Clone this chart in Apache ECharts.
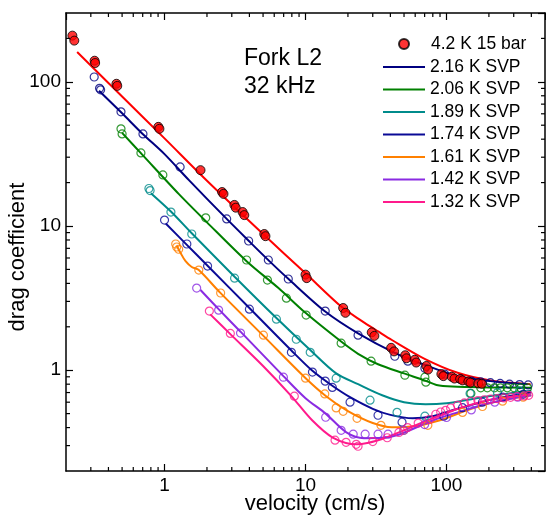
<!DOCTYPE html>
<html>
<head>
<meta charset="utf-8">
<script src="https://cdn.jsdelivr.net/npm/echarts@6/dist/echarts.min.js"></script>
<style>
html, body { margin: 0; padding: 0; background: #fff; }
#chart { width: 546px; height: 519px; }
</style>
</head>
<body>
<div id="chart"></div>
<script>
// Tuning fork L2 at 32 kHz: drag coefficient against velocity (cm/s).
// Each temperature has measured points [velocity, drag] and a fitted curve.

const dots42K = [[0.222,209],[0.229,193],[0.319,140],[0.322,135],[0.456,96.9],[0.462,93.7],
  [0.904,48.7],[0.92,47.2],[1.80,24.4],[2.56,17.2],[2.62,16.7],[3.13,14.0],[3.2,13.4],
  [3.58,12.5],[3.68,11.9],[5.1,8.8],[5.2,8.5],[10.0,4.6],[10.2,4.35],[18.5,2.7],[19.2,2.5],
  [29.5,1.83],[30.8,1.73],[40.5,1.43],[42.5,1.35],[51,1.27],[52,1.21],[59.5,1.18],[61,1.13],
  [72,1.07],[74,1.01],[92,0.94],[95,0.91],[109,0.90],[114,0.875],[125,0.87],[130,0.85],
  [143,0.835],[148,0.82],[168,0.81],[178,0.805]];
const fit42K = [[0.24,161],[0.5,79],[1,40.5],[2,20.6],[5,8.8],[10,4.7],[18,2.75],[25,2.2],
  [33,1.85],[41,1.62],[70,1.2],[120,0.96],[205,0.85],[395,0.80]];

const dots216 = [[0.317,108],[0.346,90.1],[0.352,88],[0.491,61.9],[0.703,43.5],[1.29,25.7],
  [2.76,11.2],[3.95,7.87],[5.45,5.81],[7.55,4.29],[13.8,2.57],[23.6,1.75],[43,1.25],
  [53.2,1.155],[70.3,1.03],[97.3,0.938],[126,0.866],[150,0.84],[175,0.83],[205,0.82],
  [240,0.81],[280,0.80],[330,0.795],[380,0.79]];
const fit216 = [[0.343,86.6],[0.5,60.5],[0.7,43.5],[1.0,31.5],[1.49,20.8],[2.76,11.2],
  [3.95,7.9],[5.45,5.8],[7.55,4.3],[13.8,2.55],[23.6,1.8],[42.9,1.32],[69.9,1.09],
  [120,0.91],[205,0.84],[376,0.80]];

const dots206 = [[0.491,47.2],[0.50,43.5],[0.68,32.1],[0.973,22.6],[1.96,11.4],[3.82,5.81],
  [5.37,4.22],[7.32,3.16],[10.1,2.41],[17.9,1.54],[29.2,1.155],[50.7,0.923],[70.3,0.894],
  [71.4,0.826],[149,0.69],[175,0.755],[195,0.755],[219,0.755],[241,0.755],[270,0.755],
  [302,0.755],[336,0.755],[376,0.755]];
const fit206 = [[0.5,44.2],[0.7,31],[1.26,16.7],[2,10.6],[3.82,5.7],[6.43,3.71],[10,2.5],
  [17.9,1.58],[23.6,1.3],[32.7,1.10],[50,0.95],[70,0.85],[85,0.79],[110,0.77],[200,0.76],
  [400,0.755]];

const dots189 = [[0.775,18.2],[0.79,17.6],[1.11,12.5],[1.56,8.8],[3.14,4.35],[6.22,2.26],
  [8.6,1.64],[10.8,1.33],[16.5,0.88],[28.7,0.62],[44.6,0.51],[70.3,0.48],[147,0.69],
  [230,0.70],[330,0.72]];
const fit189 = [[0.80,16.9],[1.11,12.6],[1.56,8.9],[3.14,4.45],[6.22,2.3],[10.8,1.38],
  [16.5,0.95],[23.6,0.80],[35,0.67],[50,0.60],[71,0.58],[100,0.59],[150,0.63],[250,0.68],
  [400,0.72]];

const dots174 = [[1.0,11.0],[1.44,7.5],[2.02,5.27],[4.0,2.65],[7.94,1.33],[11.2,0.97],
  [13.8,0.84],[15.5,0.76],[20.7,0.60],[32.7,0.487],[48.4,0.436],[95.7,0.48],[130,0.55],
  [180,0.60],[250,0.65],[350,0.68]];
const fit174 = [[1.02,10.4],[1.44,7.4],[2.02,5.3],[4.0,2.7],[7.94,1.37],[11.2,0.99],
  [15.5,0.78],[20.7,0.65],[30,0.54],[40,0.49],[57.7,0.464],[80,0.48],[120,0.54],
  [200,0.62],[300,0.67],[400,0.70]];

const dots161 = [[1.20,7.5],[1.22,7.15],[1.26,6.9],[1.75,4.95],[2.50,3.43],[5.03,1.75],
  [10.0,0.88],[13.7,0.685],[16.5,0.548],[18.5,0.519],[23.2,0.464],[34.3,0.415],[49.9,0.383],
  [73.8,0.415],[130,0.51],[180,0.56],[250,0.61],[350,0.65]];
const fit161 = [[1.22,7.3],[1.30,6.5],[1.41,5.7],[1.56,5.2],[1.75,4.95],[2.48,3.45],
  [5.03,1.73],[9.9,0.89],[14,0.66],[20,0.52],[30,0.43],[41,0.402],[60,0.41],[90,0.45],
  [150,0.54],[250,0.62],[400,0.67]];

const dots142 = [[1.69,3.71],[2.42,2.61],[3.46,1.81],[6.97,0.894],[13.9,0.472],[17.9,0.383],
  [21.8,0.36],[26.5,0.36],[32.7,0.36],[38.5,0.36],[49.9,0.383],[70,0.42],[100,0.47],
  [150,0.53],[220,0.60],[320,0.65]];
const fit142 = [[1.8,3.6],[2.42,2.65],[3.46,1.85],[6.97,0.91],[10,0.64],[13.9,0.50],
  [19.5,0.371],[26,0.338],[35,0.34],[45.7,0.357],[80.6,0.45],[120,0.51],[200,0.59],
  [300,0.64],[400,0.67]];

const dots132 = [[2.08,2.57],[2.93,1.80],[8.33,0.661],[16.2,0.327],[19.4,0.316],[22.9,0.306],
  [23.6,0.297],[30,0.32],[38,0.34],[46,0.37],[53,0.40],[63,0.43],[75.5,0.455],[84,0.495],
  [91,0.513],[98.6,0.527],[107,0.547],[120,0.571],[134,0.593],[149,0.609],[167,0.616],
  [185,0.622],[205,0.63],[229,0.636],[256,0.642],[285,0.649],[317,0.657],[355,0.663],
  [383,0.67]];
const fit132 = [[2.11,2.44],[2.93,1.78],[5,1.07],[7.88,0.667],[11.1,0.451],[15.6,0.341],
  [23.1,0.306],[34.5,0.332],[60.6,0.415],[107,0.519],[189,0.613],[395,0.68]];

// minor tick positions of the logarithmic axes
const xMinorTicks = [0.3,0.4,0.5,0.6,0.7,0.8,0.9,2,3,4,5,6,7,8,9,20,30,40,50,60,70,80,90,200,300,400];
const yMinorTicks = [0.3,0.4,0.5,0.6,0.7,0.8,0.9,2,3,4,5,6,7,8,9,20,30,40,50,60,70,80,90,200];

const FONT = 'Liberation Sans, Arial, sans-serif';

const svpSets = [
  { name: '2.16 K SVP', color: '#000080', dots: dots216, fit: fit216 },
  { name: '2.06 K SVP', color: '#008000', dots: dots206, fit: fit206 },
  { name: '1.89 K SVP', color: '#008b8b', dots: dots189, fit: fit189 },
  { name: '1.74 K SVP', color: '#0a0a96', dots: dots174, fit: fit174 },
  { name: '1.61 K SVP', color: '#ff8000', dots: dots161, fit: fit161 },
  { name: '1.42 K SVP', color: '#8a2be2', dots: dots142, fit: fit142 },
  { name: '1.32 K SVP', color: '#ff1a8c', dots: dots132, fit: fit132 }
];

const tickLine = { color: '#000', width: 1.2 };

function logAxis(pos, min, max, showLabels) {
  return {
    type: 'log', logBase: 10, min: min, max: max, position: pos,
    axisLine: { show: true, onZero: false, lineStyle: { color: '#000', width: 1.5 } },
    axisTick: { show: true, inside: true, length: 7, lineStyle: tickLine },
    minorTick: { show: false },
    splitLine: { show: false },
    axisLabel: {
      show: showLabels, fontSize: 19, color: '#000', fontFamily: FONT, margin: 5,
      showMinLabel: false, showMaxLabel: false
    }
  };
}

function minorTicksX(params, api) {
  const cs = params.coordSys;
  const x = api.coord([api.value(0), 1])[0];
  const yb = cs.y + cs.height, yt = cs.y;
  return { type: 'group', children: [
    { type: 'line', shape: { x1: x, y1: yb, x2: x, y2: yb - 4 }, style: { stroke: '#000', lineWidth: 1.2 } },
    { type: 'line', shape: { x1: x, y1: yt, x2: x, y2: yt + 4 }, style: { stroke: '#000', lineWidth: 1.2 } }
  ]};
}
function minorTicksY(params, api) {
  const cs = params.coordSys;
  const y = api.coord([1, api.value(1)])[1];
  const xl = cs.x, xr = cs.x + cs.width;
  return { type: 'group', children: [
    { type: 'line', shape: { x1: xl, y1: y, x2: xl + 4, y2: y }, style: { stroke: '#000', lineWidth: 1.2 } },
    { type: 'line', shape: { x1: xr, y1: y, x2: xr - 4, y2: y }, style: { stroke: '#000', lineWidth: 1.2 } }
  ]};
}

const series = [];
// fitted curves
series.push({
  name: '4.2 K fit', type: 'line', data: fit42K, showSymbol: false, smooth: 0.3,
  lineStyle: { color: '#ff0000', width: 2 }, itemStyle: { color: '#ff0000' }, z: 2
});
svpSets.forEach(s => {
  series.push({
    name: s.name, type: 'line', data: s.fit, showSymbol: false, smooth: 0.3,
    lineStyle: { color: s.color, width: 2 }, itemStyle: { color: s.color }, z: 2
  });
});
// measured points, open circles
svpSets.forEach(s => {
  series.push({
    name: s.name + ' data', type: 'scatter', data: s.dots, symbol: 'circle', symbolSize: 8,
    itemStyle: { color: 'rgba(0,0,0,0)', borderColor: s.color, borderWidth: 1.2 }, z: 3
  });
});
// 4.2 K measured points, filled
series.push({
  name: '4.2 K 15 bar', type: 'scatter', data: dots42K, symbol: 'circle', symbolSize: 9,
  itemStyle: { color: '#ff0000', borderColor: '#000', borderWidth: 1 }, z: 4
});
series.push({
  name: 'xminor', type: 'custom', renderItem: minorTicksX, silent: true, z: 5,
  data: xMinorTicks.map(v => [v, 1])
});
series.push({
  name: 'yminor', type: 'custom', renderItem: minorTicksY, silent: true, z: 5,
  data: yMinorTicks.map(v => [1, v])
});

const chart = echarts.init(document.getElementById('chart'), null, { renderer: 'canvas' });
chart.setOption({
  animation: false,
  backgroundColor: '#fff',
  grid: { left: 66, right: 1, top: 13, bottom: 48, containLabel: false },
  xAxis: [logAxis('bottom', 0.2, 500, true), logAxis('top', 0.2, 500, false)],
  yAxis: [logAxis('left', 0.2, 300, true), logAxis('right', 0.2, 300, false)],
  legend: [
    {
      data: [{ name: '4.2 K 15 bar', icon: 'circle' }],
      orient: 'vertical', left: 398, top: 35, padding: 0,
      itemWidth: 10, itemHeight: 10, selectedMode: false,
      textStyle: { fontSize: 17.5, color: '#000', fontFamily: FONT, padding: [0, 0, 0, 17] }
    },
    {
      data: svpSets.map(s => ({ name: s.name, icon: 'rect' })),
      orient: 'vertical', left: 383, top: 58, padding: 0, itemGap: 4.5,
      itemWidth: 42, itemHeight: 2, selectedMode: false,
      textStyle: { fontSize: 17.5, color: '#000', fontFamily: FONT }
    }
  ],
  graphic: [
    { type: 'text', x: 244, y: 59, style: { text: 'Fork L2', font: '23px ' + FONT, fill: '#000', verticalAlign: 'middle' } },
    { type: 'text', x: 244, y: 87, style: { text: '32 kHz', font: '23px ' + FONT, fill: '#000', verticalAlign: 'middle' } },
    { type: 'text', x: 315, y: 504, style: { text: 'velocity (cm/s)', font: '22px ' + FONT, fill: '#000', align: 'center', verticalAlign: 'middle' } },
    { type: 'text', x: 18, y: 257, rotation: Math.PI / 2, style: { text: 'drag coefficient', font: '22px ' + FONT, fill: '#000', align: 'center', verticalAlign: 'middle' } }
  ],
  series: series
});
</script>
</body>
</html>
